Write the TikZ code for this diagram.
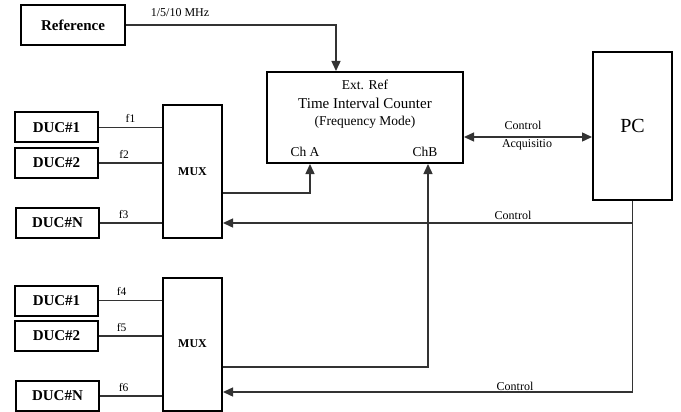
\documentclass[tikz,border=0pt]{standalone}
\usepackage{fontspec}
\setmainfont{Liberation Serif}
\usetikzlibrary{arrows.meta}
\tikzset{
  blk/.style={draw,line width=2pt,minimum width=83pt,minimum height=30pt,inner sep=0pt,
    font=\fontsize{15}{18}\selectfont\bfseries},
  muxbox/.style={blk,minimum width=59pt,minimum height=133pt,font=\fontsize{12}{14}\selectfont\bfseries},
  wire/.style={line width=1.4pt,draw=black!80},
  tip/.tip={Triangle[length=10pt,width=9pt]},
  arr/.style={wire,-tip},
  lbl/.style={font=\fontsize{12}{14}\selectfont,inner sep=0pt},
  flbl/.style={font=\fontsize{11.5}{13}\selectfont,inner sep=0pt,above=4pt},
}
\begin{document}
\begin{tikzpicture}[x=1pt,y=-1pt]
  \useasboundingbox (0,0) rectangle (681,412);
  % blocks
  \node[blk,minimum width=104pt,minimum height=40pt] (ref) at (73,25) {Reference};
  \node[blk,minimum width=196pt,minimum height=91pt] (tic) at (365,117.5) {};
  \node[blk,minimum width=79pt,minimum height=148pt,font=\fontsize{20}{24}\selectfont] (pc) at (632.5,126) {PC};
  \node[muxbox] (mux1) at (192.5,171.5) {MUX};
  \node[muxbox] (mux2) at (192.5,344) {MUX};
  \node[blk] (d11) at (56.5,127.5) {DUC\#1};
  \node[blk] (d12) at (56.5,163) {DUC\#2};
  \node[blk] (d1n) at (57.5,223) {DUC\#N};
  \node[blk] (d21) at (56.5,300.5) {DUC\#1};
  \node[blk] (d22) at (56.5,336) {DUC\#2};
  \node[blk] (d2n) at (57.5,396) {DUC\#N};
  % text in the counter
  \node[lbl,font=\fontsize{13.5}{16}\selectfont] (extref) at (365,85) {Ext. Ref};
  \node[lbl,font=\fontsize{15}{18}\selectfont] (ticname) at (365,103.5) {Time Interval Counter};
  \node[lbl,font=\fontsize{13.5}{16}\selectfont] (ticmode) at (365,122) {(Frequency Mode)};
  \node[lbl,font=\fontsize{13.5}{16}\selectfont] (cha) at (305,152) {Ch A};
  \node[lbl,font=\fontsize{13.5}{16}\selectfont] (chb) at (425,152) {ChB};
  % ports
  \coordinate (rin) at ([xshift=-29pt]tic.north);
  \coordinate (ina) at ([xshift=-55pt]tic.south);
  \coordinate (inb) at ([xshift=63pt]tic.south);
  \coordinate (out1) at ([yshift=-21.5pt]mux1.east);
  \coordinate (out2) at ([yshift=-23pt]mux2.east);
  \coordinate (ctl1) at ([yshift=-51.5pt]mux1.east);
  \coordinate (ctl2) at ([yshift=-48pt]mux2.east);
  \coordinate (acq) at ([yshift=-19.5pt]tic.east);
  % inputs to the multiplexers
  \draw[wire] (d11.east) -- (d11.east -| mux1.west) node[flbl,pos=0.5] {f1};
  \draw[wire] (d12.east) -- (d12.east -| mux1.west) node[flbl,pos=0.4] {f2};
  \draw[wire] (d1n.east) -- (d1n.east -| mux1.west) node[flbl,pos=0.38] {f3};
  \draw[wire] (d21.east) -- (d21.east -| mux2.west) node[flbl,pos=0.36] {f4};
  \draw[wire] (d22.east) -- (d22.east -| mux2.west) node[flbl,pos=0.36] {f5};
  \draw[wire] (d2n.east) -- (d2n.east -| mux2.west) node[flbl,pos=0.38] {f6};
  % signals to the counter
  \draw[arr] (ref.east) -| (rin);
  \node[lbl] (mhz) at (180,13) {1/5/10 MHz};
  \draw[arr] (out1) -| (ina);
  \draw[arr] (out2) -| (inb);
  % PC link
  \draw[wire,tip-tip] (acq) -- (acq -| pc.west);
  \node[lbl] (ctlt) at (523,125) {Control};
  \node[lbl] (acqt) at (527,145) {Acquisitio};
  \draw[arr] (pc.south) |- (ctl2);
  \draw[arr] (ctl1 -| pc.south) -- (ctl1);
  \node[lbl] (ctla) at (513,215) {Control};
  \node[lbl] (ctlb) at (515,386) {Control};
\end{tikzpicture}
\end{document}
